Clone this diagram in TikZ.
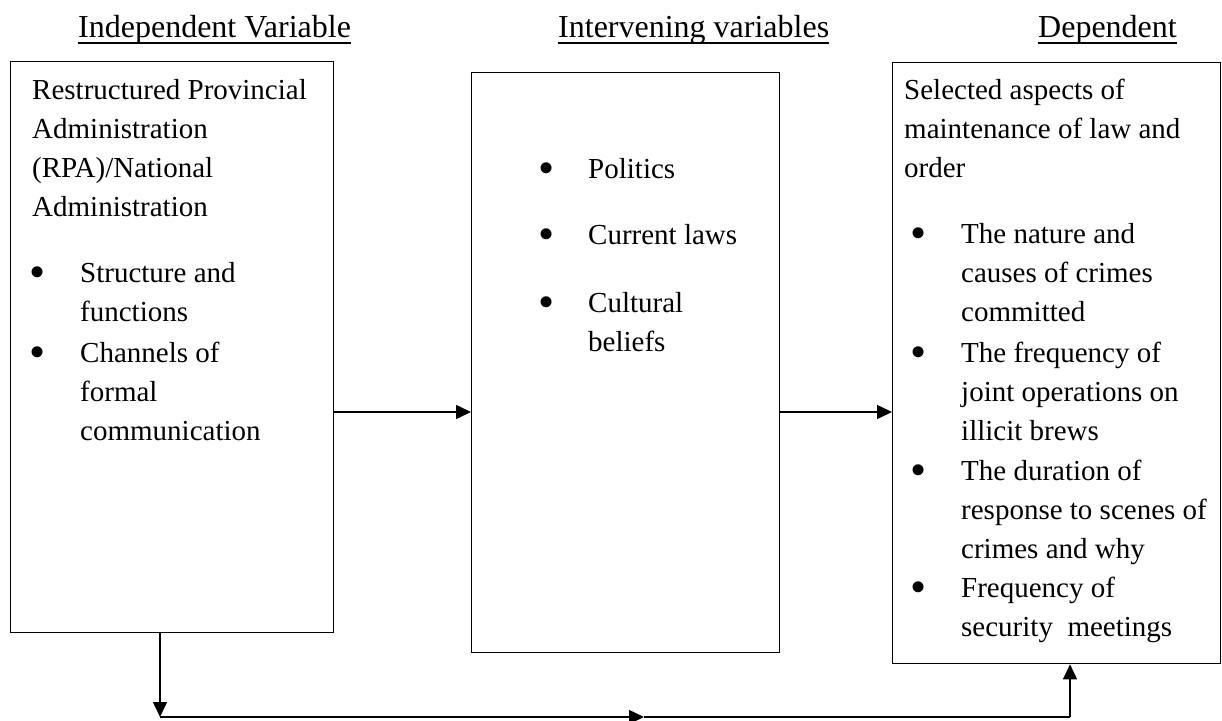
\documentclass[tikz,border=0pt]{standalone}
\usepackage{fontspec}
\setmainfont{Liberation Serif}
\usetikzlibrary{arrows.meta}
\begin{document}
\begin{tikzpicture}[x=1pt,y=-1pt,
  box/.style={draw, line width=1.3pt, inner sep=0pt, anchor=north west},
  body/.style={font=\fontsize{29}{39.3}\selectfont, align=left, inner sep=0pt, anchor=base west},
  bul/.style={font=\fontsize{46}{46}\selectfont, inner sep=0pt, anchor=center, yshift=5pt},
  head/.style={font=\fontsize{32}{38}\selectfont, inner sep=0pt, anchor=base west},
  uline/.style={line width=1.5pt},
  conn/.style={line width=1.5pt},
  arr/.style={conn, -{Triangle[length=15pt,width=14pt]}}]
\useasboundingbox (0,0) rectangle (1222,720);

% headers
\node[head] (h1) at (78,37) {Independent Variable};
\node[head] (h2) at (558,37) {Intervening variables};
\node[head] (h3) at (1038,37) {Dependent};
\foreach \h in {h1,h2,h3}
  \draw[uline] ([yshift=-6pt]\h.base west) -- ([yshift=-6pt]\h.base east);

% boxes
\node[box, minimum width=323pt, minimum height=571pt] (ind) at (10,61) {};
\node[box, minimum width=308pt, minimum height=580pt] (int) at (471,72) {};
\node[box, minimum width=328pt, minimum height=601pt] (dep) at (892,62) {};

% left box text (multi-line nodes are placed by the baseline of their last line)
\node[body] (l0) at (32,216.9) {Restructured Provincial\\Administration\\(RPA)/National\\Administration};
\node[bul] (lb1) at (38,282) {\textbullet};
\node[body] (l1) at (80,321.3) {Structure and\\functions};
\node[bul] (lb2) at (38,362) {\textbullet};
\node[body] (l2) at (80,440.6) {Channels of\\formal\\communication};

% middle box text
\node[bul] (mb1) at (547,178) {\textbullet};
\node[body] (m1) at (588,178) {Politics};
\node[bul] (mb2) at (547,244) {\textbullet};
\node[body] (m2) at (588,244) {Current laws};
\node[bul] (mb3) at (547,312) {\textbullet};
\node[body] (m3) at (588,351.3) {Cultural\\beliefs};

% right box text
\node[body] (r0) at (904,177.6) {Selected aspects of\\maintenance of law and\\order};
\node[bul] (rb1) at (919,243) {\textbullet};
\node[body] (r1) at (961,321.6) {The nature and\\causes of crimes\\committed};
\node[bul] (rb2) at (919,362) {\textbullet};
\node[body] (r2) at (961,440.6) {The frequency of\\joint operations on\\illicit brews};
\node[bul] (rb3) at (919,480) {\textbullet};
\node[body] (r3) at (961,558.6) {The duration of\\response to scenes of\\crimes and why};
\node[bul] (rb4) at (919,597) {\textbullet};
\node[body] (r4) at (961,636.3) {Frequency of\\security\ \ meetings};

% connectors
\draw[arr] (ind.east |- 0,412) -- (int.west |- 0,412);
\draw[arr] (int.east |- 0,412) -- (dep.west |- 0,412);

\coordinate (bl) at (160,717);
\coordinate (bm) at (644,717);
\coordinate (br) at (1070,717);
\draw[arr] (bl |- ind.south) -- (bl);
\draw[arr] (bl) -- (bm);
\draw[conn] (bm) -- (br);
\draw[arr] (br) -- (br |- dep.south);
\end{tikzpicture}
\end{document}
